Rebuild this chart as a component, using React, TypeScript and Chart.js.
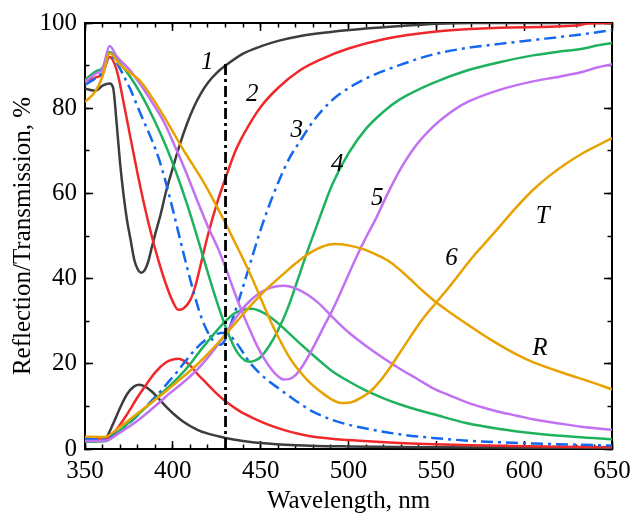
import React, { useEffect, useRef } from 'react';
import { Chart, registerables } from 'chart.js';

Chart.register(...registerables);

const FONT = '"Liberation Serif", "Times New Roman", Times, serif';

// ---- Curve 1 (dark gray) ----
const wlT1 = [350, 356, 360, 364, 366, 368, 370, 372, 374, 376, 378, 380, 382, 384, 386, 388, 390, 393, 396, 400, 404, 408, 412, 416, 420, 425, 430, 440, 450, 460, 472, 490, 510, 530, 550, 570, 650];
const T1 = [84.6, 84.1, 85.3, 85.8, 84.8, 76.5, 67, 59.5, 53.5, 49, 44.5, 42.2, 41.4, 42, 44, 47.3, 50.5, 55, 60.2, 66, 71.5, 76.3, 80.3, 83.5, 86, 88.3, 90, 92.8, 94.5, 95.8, 96.9, 97.9, 98.7, 99.3, 99.8, 100, 100];
const wlR1 = [350, 356, 360, 362, 366, 370, 374, 378, 381, 384, 388, 392, 396, 400, 406, 414, 420, 430, 440, 450, 470, 500, 550, 600, 650];
const R1 = [2.4, 2.3, 2.2, 2.6, 5.9, 9.7, 12.9, 14.7, 15.1, 14.7, 13.5, 11.8, 10, 8.4, 6.4, 4.5, 3.6, 2.6, 1.9, 1.4, 0.9, 0.6, 0.4, 0.3, 0.2];

// ---- Curve 2 (red) ----
const wlT2 = [350, 356, 360, 364, 368, 372, 376, 380, 384, 388, 392, 396, 400, 403, 406, 410, 413, 416, 420, 425, 430, 436, 444, 450, 460, 472, 485, 500, 520, 550, 586, 630, 636, 650];
const T2 = [86.3, 87.2, 88.1, 92, 89, 81.3, 72.8, 64.5, 56.8, 50, 44, 38.8, 34.6, 32.7, 33, 35, 38.5, 43.5, 50.3, 57.5, 63.6, 70.3, 76.5, 80.3, 84.8, 88.8, 91.6, 94, 96.2, 98, 98.9, 99.4, 99.9, 100];
const wlR2 = [350, 356, 360, 363, 368, 374, 380, 385, 390, 396, 400, 403, 406, 410, 414, 419, 425, 430, 438, 446, 455, 463, 472, 480, 500, 529, 570, 610, 650];
const R2 = [2.4, 2.3, 2.2, 2.6, 4.6, 8.2, 12.2, 15.2, 18, 20.3, 21, 21.2, 20.8, 19.5, 17.6, 15.5, 13, 11.2, 8.9, 7.2, 5.6, 4.5, 3.5, 2.9, 2.1, 1.4, 0.9, 0.6, 0.4];

// ---- Curve 3 (blue, dash-dot) ----
const wlT3 = [350, 356, 360, 364, 368, 372, 376, 380, 384, 388, 392, 396, 400, 404, 408, 412, 416, 420, 424, 427, 430, 434, 438, 444, 450, 457, 466, 472, 480, 491, 500, 510, 529, 548, 567, 586, 605, 630, 650];
const T3 = [85.5, 87, 88.5, 92.3, 90.7, 87.6, 84.3, 80.3, 76.4, 72.6, 68.2, 62.6, 56.2, 49.4, 42.8, 36.6, 31.2, 27.3, 25, 24.5, 25.8, 30.5, 35.5, 43.5, 51.5, 59.5, 68, 72, 77, 82, 84.7, 87, 90.1, 92.6, 94.1, 95.1, 96, 97.2, 98.3];
const wlR3 = [350, 356, 360, 363, 370, 379, 386, 394, 398, 402, 406, 412, 418, 424, 430, 436, 444, 452, 460, 466, 474, 480, 491, 500, 510, 530, 548, 570, 605, 650];
const R3 = [2.4, 2.3, 2.2, 2.6, 4.4, 7.5, 10.5, 14, 16, 17.9, 20, 23, 25.4, 26.9, 27.3, 25, 20.2, 16.8, 14.3, 12.5, 10.2, 8.7, 6.8, 5.7, 4.8, 3.4, 2.6, 1.9, 1.3, 0.8];

// ---- Curve 4 (green) ----
const wlT4 = [350, 356, 360, 364, 370, 376, 382, 389, 396, 402, 408, 413, 417, 422, 427, 432, 437, 441, 444, 447, 450, 455, 460, 465, 470, 476, 482, 491, 500, 510, 520, 529, 548, 567, 586, 605, 620, 634, 640, 650];
const T4 = [86.7, 88.6, 89.5, 93.2, 90.5, 87.2, 83.2, 77.6, 71.2, 64.8, 57.6, 51, 45.4, 38.6, 32.2, 26.6, 22.5, 20.8, 20.5, 20.8, 21.6, 24.3, 28, 32.6, 38.4, 45.7, 52.5, 62.3, 69.4, 75.2, 79.2, 82, 85.9, 88.8, 90.8, 92.4, 93.3, 94, 94.6, 95.3];
const wlR4 = [350, 362, 370, 381, 390, 400, 408, 417, 423, 429, 435, 440, 445, 450, 455, 460, 465, 472, 478, 485, 491, 500, 510, 520, 529, 539, 548, 567, 586, 605, 630, 650];
const R4 = [1.7, 1.9, 4.4, 8.4, 11.7, 15.5, 19, 23.8, 26.8, 29.6, 31.8, 32.7, 32.9, 32.3, 31.1, 29.5, 27.6, 24.9, 22.7, 20.2, 18.2, 15.9, 13.7, 11.9, 10.5, 9.2, 8.2, 6.1, 4.7, 3.7, 2.8, 2.3];

// ---- Curve 5 (violet) ----
const wlT5 = [350, 356, 360, 364, 368, 376, 387, 395, 402, 408, 414, 420, 426, 430, 433, 436, 440, 444, 448, 452, 456, 460, 463, 466, 470, 474, 478, 482, 486, 490, 494, 498, 504, 510, 515, 522, 529, 538, 548, 557, 567, 586, 605, 620, 634, 642, 650];
const T5 = [86.2, 88.1, 89.2, 94.6, 92.2, 88.7, 82.2, 76.7, 70.3, 64.5, 58.2, 52.2, 46.8, 42.6, 39.2, 35.8, 31.6, 27.8, 24.2, 21.2, 18.8, 17, 16.3, 16.4, 17.4, 19.6, 22.4, 25.5, 28.8, 31.9, 35.4, 39.1, 44.6, 49.7, 53.6, 59.7, 65.3, 71, 75.6, 78.7, 81.3, 84.3, 86.3, 87.4, 88.6, 89.6, 90.3];
const wlR5 = [350, 362, 370, 381, 392, 398, 405, 414, 420, 428, 436, 444, 453, 463, 472, 482, 491, 500, 510, 520, 529, 539, 548, 558, 567, 577, 586, 596, 605, 620, 635, 650];
const R5 = [1.9, 2, 3.9, 7, 10.8, 13, 15.3, 18.7, 21.5, 25.8, 30.9, 34.8, 37.4, 38.3, 37.3, 34.6, 30.9, 27.4, 24.2, 21.3, 18.9, 16.5, 14.3, 12.5, 11, 9.7, 8.7, 7.8, 7, 6, 5.1, 4.5];

// ---- Curve 6 (orange) ----
const wlT6 = [350, 356, 360, 364, 370, 376, 381, 389, 395, 400, 406, 412, 418, 423, 430, 435, 440, 445, 450, 455, 460, 467, 472, 478, 484, 489, 496, 502, 507, 512, 516, 520, 524, 530, 535, 542, 550, 558, 565, 571, 577, 586, 595, 605, 614, 624, 634, 642, 650];
const T6 = [81.5, 84, 87.5, 92.9, 90.2, 88.2, 86.6, 82, 78, 74.5, 70.2, 66.3, 62.3, 58.5, 53, 48.8, 44.6, 40.2, 35.4, 30.6, 26.3, 21.1, 18.3, 15.6, 13.5, 12, 10.8, 11, 12, 13.4, 15, 17, 19.3, 23.1, 26.2, 30.4, 34.4, 38.4, 42.1, 45.2, 48, 52.2, 56.5, 60.8, 64, 67, 69.6, 71.3, 73];
const wlR6 = [350, 361, 370, 385, 395, 404, 414, 422, 430, 438, 446, 454, 463, 470, 476, 484, 492, 500, 510, 517, 524, 530, 535, 542, 550, 558, 565, 580, 597, 605, 624, 636, 650];
const R6 = [2.9, 2.8, 5.2, 10, 13.2, 16.3, 19.9, 23.2, 26.9, 30.7, 34.4, 37.8, 41.1, 43.6, 45.5, 47.3, 48.1, 47.8, 46.7, 45.4, 43.8, 41.8, 39.9, 37.2, 34.4, 32, 30, 25.9, 21.9, 20.4, 17.6, 16, 14];

// ---- Vertical marker ----
const markerWl = 430;
const markerTop = 90.6;

// ---- Curve labels ----
const labelText = ['1', '2', '3', '4', '5', '6', 'T', 'R'];
const labelX = [419.6, 445.2, 470.5, 493.6, 516.4, 558.7, 610.5, 609];
const labelY = [90.8, 83.2, 74.9, 66.7, 58.9, 44.8, 54.7, 23.7];

const C1 = '#3d3d3d';
const C2 = '#f0282a';
const C3 = '#1468f0';
const C4 = '#1eb25e';
const C5 = '#c171f2';
const C6 = '#e8a200';

const pts = (wl: number[], v: number[]) => wl.map((x, i) => ({ x, y: v[i] }));

const labelPlugin = {
  id: 'curveLabels',
  afterDatasetsDraw(chart: any) {
    const { ctx, scales } = chart;
    const xs = scales.x;
    const ys = scales.y;
    ctx.save();
    ctx.font = `italic 25px ${FONT}`;
    ctx.fillStyle = '#000';
    ctx.textAlign = 'center';
    ctx.textBaseline = 'middle';
    labelText.forEach((t, i) => {
      ctx.fillText(t, xs.getPixelForValue(labelX[i]), ys.getPixelForValue(labelY[i]));
    });
    ctx.restore();
  },
};

export default function App() {
  const ref = useRef<HTMLCanvasElement>(null);

  useEffect(() => {
    if (!ref.current) return;
    const DASHDOT = [12, 5, 3, 5];
    const mk = (label: string, wl: number[], v: number[], color: string, dash: number[] = []) => ({
      label,
      data: pts(wl, v),
      borderColor: color,
      backgroundColor: color,
      borderWidth: 2.5,
      borderDash: dash,
      pointRadius: 0,
      fill: false,
      cubicInterpolationMode: 'monotone' as const,
    });

    const datasets: any[] = [
      {
        label: 'marker',
        data: [
          { x: markerWl, y: 0 },
          { x: markerWl, y: markerTop },
        ],
        borderColor: '#000',
        borderWidth: 2.8,
        borderDash: [11, 4, 3, 4],
        pointRadius: 0,
        fill: false,
      },
      mk('T6', wlT6, T6, C6),
      mk('R6', wlR6, R6, C6),
      mk('T5', wlT5, T5, C5),
      mk('R5', wlR5, R5, C5),
      mk('T4', wlT4, T4, C4),
      mk('R4', wlR4, R4, C4),
      mk('T3', wlT3, T3, C3, DASHDOT),
      mk('R3', wlR3, R3, C3, DASHDOT),
      mk('T2', wlT2, T2, C2),
      mk('R2', wlR2, R2, C2),
      mk('T1', wlT1, T1, C1),
      mk('R1', wlR1, R1, C1),
    ];

    const tickFont = { family: FONT, size: 25, lineHeight: 1.2 };
    const titleFont = { family: FONT, size: 25, lineHeight: 1 };
    const majorGrid = { drawOnChartArea: false, drawTicks: true, tickLength: -8, color: '#000', tickColor: '#000', tickWidth: 1.5 };
    const minorGrid = { drawOnChartArea: false, drawTicks: true, tickLength: -4.5, color: '#000', tickColor: '#000', tickWidth: 1.5 };
    const frame = { display: true, color: '#000', width: 2 };
    const noBorder = { display: false };
    const hiddenTicks = { display: false, autoSkip: false };
    const zeroPad = (s: any) => {
      s.paddingLeft = 0;
      s.paddingRight = 0;
      s.paddingTop = 0;
      s.paddingBottom = 0;
    };

    const chart = new Chart(ref.current, {
      type: 'line',
      data: { datasets },
      options: {
        animation: false,
        responsive: false,
        devicePixelRatio: 1,
        layout: { padding: { left: 0, right: 22, top: 23, bottom: 0 } },
        plugins: { legend: { display: false }, tooltip: { enabled: false } },
        scales: {
          x: {
            type: 'linear',
            position: 'bottom',
            weight: 1,
            min: 350,
            max: 650,
            ticks: { stepSize: 50, font: tickFont, color: '#000', padding: 15, maxRotation: 0, autoSkip: false },
            grid: majorGrid,
            border: frame,
            title: { display: true, text: 'Wavelength, nm', font: titleFont, color: '#000', padding: { top: 0, bottom: 0 } },
            afterFit: (s: any) => { s.height = 65; zeroPad(s); },
          },
          xMinor: {
            type: 'linear',
            position: 'bottom',
            weight: 0,
            min: 350,
            max: 650,
            ticks: { ...hiddenTicks, stepSize: 10 },
            grid: minorGrid,
            border: noBorder,
            afterFit: (s: any) => { s.height = 0; zeroPad(s); },
          },
          xTop: {
            type: 'linear',
            position: 'top',
            weight: 1,
            min: 350,
            max: 650,
            ticks: { ...hiddenTicks, stepSize: 50 },
            grid: majorGrid,
            border: frame,
            afterFit: (s: any) => { s.height = 0; zeroPad(s); },
          },
          xTopMinor: {
            type: 'linear',
            position: 'top',
            weight: 0,
            min: 350,
            max: 650,
            ticks: { ...hiddenTicks, stepSize: 10 },
            grid: minorGrid,
            border: noBorder,
            afterFit: (s: any) => { s.height = 0; zeroPad(s); },
          },
          y: {
            type: 'linear',
            position: 'left',
            weight: 1,
            min: 0,
            max: 100,
            ticks: { stepSize: 20, font: tickFont, color: '#000', padding: 16, autoSkip: false },
            grid: majorGrid,
            border: frame,
            title: { display: true, text: 'Reflection/Transmission, %', font: titleFont, color: '#000', padding: { top: 11, bottom: 0 } },
            afterFit: (s: any) => { s.width = 85; zeroPad(s); },
          },
          yMinor: {
            type: 'linear',
            position: 'left',
            weight: 0,
            min: 0,
            max: 100,
            ticks: { ...hiddenTicks, stepSize: 10 },
            grid: minorGrid,
            border: noBorder,
            afterFit: (s: any) => { s.width = 0; zeroPad(s); },
          },
          yRight: {
            type: 'linear',
            position: 'right',
            weight: 1,
            min: 0,
            max: 100,
            ticks: { ...hiddenTicks, stepSize: 20 },
            grid: majorGrid,
            border: frame,
            afterFit: (s: any) => { s.width = 0; zeroPad(s); },
          },
          yRightMinor: {
            type: 'linear',
            position: 'right',
            weight: 0,
            min: 0,
            max: 100,
            ticks: { ...hiddenTicks, stepSize: 10 },
            grid: minorGrid,
            border: noBorder,
            afterFit: (s: any) => { s.width = 0; zeroPad(s); },
          },
        },
      } as any,
      plugins: [labelPlugin],
    });
    return () => chart.destroy();
  }, []);

  return (
    <div style={{ position: 'absolute', left: 0, top: 0, width: 634, height: 514, background: '#fff' }}>
      <canvas ref={ref} width={634} height={514} style={{ display: 'block' }} />
    </div>
  );
}
